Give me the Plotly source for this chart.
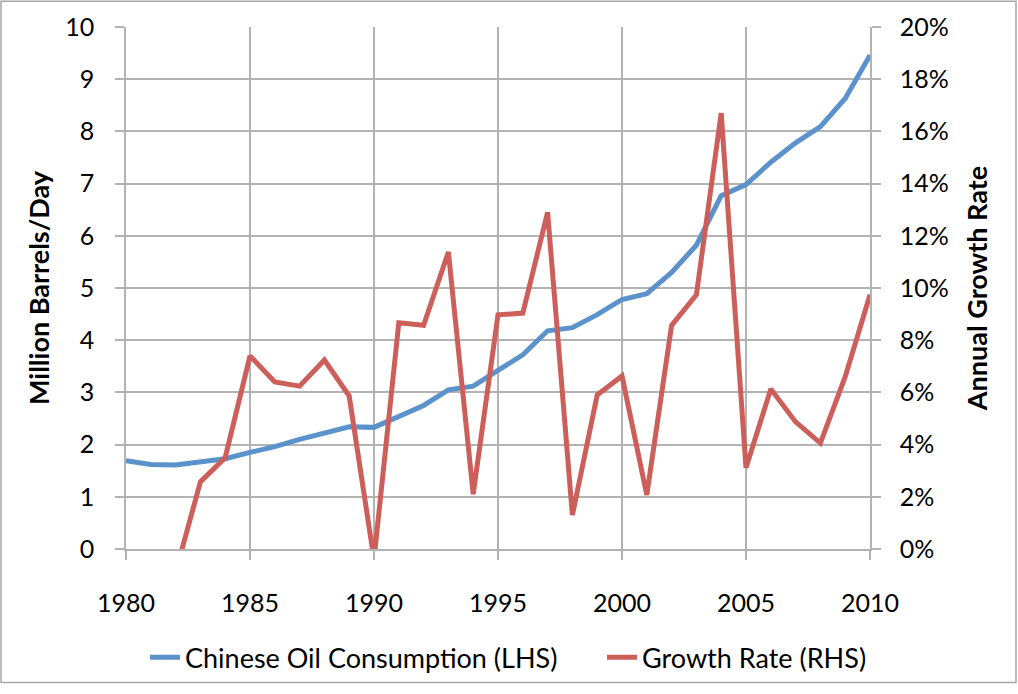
import plotly.graph_objects as go

years = list(range(1980, 2011))
consumption = [1.69, 1.62, 1.61, 1.66, 1.73, 1.85, 1.96, 2.10, 2.23, 2.34,
               2.33, 2.54, 2.75, 3.05, 3.12, 3.42, 3.72, 4.18, 4.24, 4.49,
               4.78, 4.89, 5.30, 5.82, 6.77, 6.98, 7.41, 7.78, 8.09, 8.63, 9.46]
growth = [None, -4.1, -0.9, 2.57, 3.5, 7.4, 6.4, 6.24, 7.24, 5.86,
          -0.4, 8.67, 8.57, 11.38, 2.1, 8.97, 9.04, 12.9, 1.3, 5.9,
          6.63, 2.07, 8.57, 9.74, 16.7, 3.11, 6.13, 4.87, 4.06, 6.6, 9.74]
growth_frac = [None if g is None else g / 100 for g in growth]
x_ticks = [1980, 1985, 1990, 1995, 2000, 2005, 2010]

font = "Lato, Liberation Sans, sans-serif"
grid = "#b3b3b3"

fig = go.Figure()
fig.add_trace(go.Scatter(x=years, y=consumption, mode="lines",
                         name="Chinese Oil Consumption (LHS)", legend="legend",
                         line=dict(color="#5b92cb", width=5)))
fig.add_trace(go.Scatter(x=years, y=growth_frac, mode="lines", yaxis="y2",
                         name="Growth Rate (RHS)", legend="legend2",
                         line=dict(color="#cc5f5a", width=5)))

# plot area: left 126, right 870, top 27, bottom 555 (px)
L, R, T, B = 126, 870, 27, 555
PW, PH = R - L, B - T

fig.update_layout(
    width=1018, height=694,
    margin=dict(l=L, r=1018 - R, t=T, b=694 - B),
    paper_bgcolor="white", plot_bgcolor="white",
    font=dict(family=font, size=25, color="black"),
    showlegend=True,
    legend=dict(x=(145 - L) / PW, xanchor="left", y=(B - 665) / PH, yanchor="middle",
                font=dict(size=27), bgcolor="rgba(0,0,0,0)", borderwidth=0),
    legend2=dict(x=(602 - L) / PW, xanchor="left", y=(B - 665) / PH, yanchor="middle",
                 font=dict(size=27), bgcolor="rgba(0,0,0,0)", borderwidth=0),
    xaxis=dict(range=[1980, 2010], tickmode="array", tickvals=x_ticks,
               showgrid=True, gridcolor=grid, gridwidth=1.5, zeroline=False,
               showline=True, linecolor=grid, linewidth=1.5,
               ticks="outside", ticklen=9, tickcolor=grid, tickwidth=1.5,
               ticklabelstandoff=22, tickfont=dict(size=25)),
    yaxis=dict(range=[0, 10], dtick=1, showgrid=True, gridcolor=grid, gridwidth=1.5,
               zeroline=False, showline=True, linecolor=grid, linewidth=1.5,
               ticks="outside", ticklen=9, tickcolor=grid, tickwidth=1.5,
               ticklabelstandoff=16,
               title=dict(text="<b>Million Barrels/Day</b>", font=dict(size=27), standoff=8),
               tickfont=dict(size=25)),
    yaxis2=dict(range=[0, 0.2], dtick=0.02, tickformat=".0%", overlaying="y", side="right",
                showgrid=False, zeroline=False, showline=True, linecolor=grid, linewidth=1.5,
                ticks="outside", ticklen=9, tickcolor=grid, tickwidth=1.5,
                ticklabelstandoff=14,
                title=dict(text="<b>Annual Growth Rate</b>", font=dict(size=27), standoff=20),
                tickfont=dict(size=25)),
)

fig.add_shape(type="rect", xref="paper", yref="paper",
              x0=(1 - L) / PW, x1=(1016 - L) / PW, y0=(B - 690) / PH, y1=(B - 1) / PH,
              line=dict(color="#a6a6a6", width=1.5), fillcolor="rgba(0,0,0,0)", layer="below")

fig.write_html("out.html", config={"displayModeBar": False},
               post_script="document.body.style.margin='0';")
